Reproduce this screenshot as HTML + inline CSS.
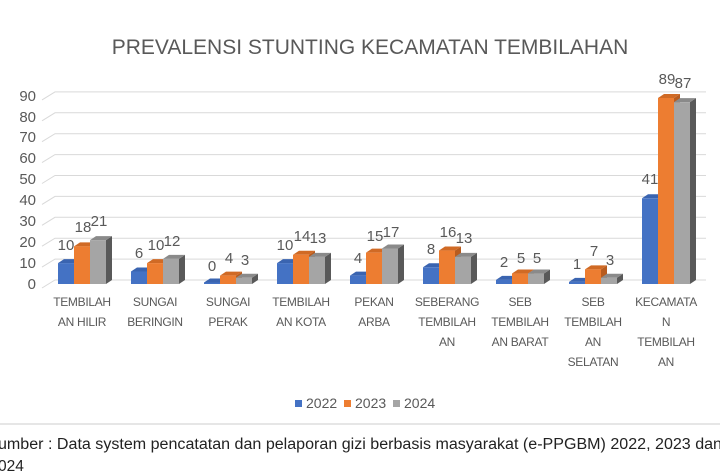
<!DOCTYPE html>
<html><head><meta charset="utf-8"><style>
html,body{margin:0;padding:0;background:#fff;width:720px;height:475px;overflow:hidden}
svg{display:block;font-family:"Liberation Sans",sans-serif}
.n{font-family:"Liberation Sans Narrow","Liberation Sans",sans-serif}
</style></head><body>
<svg width="720" height="475" viewBox="0 0 720 475">
<text x="370" y="54" text-anchor="middle" font-size="21" fill="#595959">PREVALENSI STUNTING KECAMATAN TEMBILAHAN</text>
<g id="grid" stroke="#d9d9d9" stroke-width="1" fill="none"></g>
<g font-size="15" fill="#595959" text-anchor="end">
<text x="36" y="289">0</text><text x="36" y="268">10</text><text x="36" y="247">20</text><text x="36" y="226">30</text><text x="36" y="205">40</text><text x="36" y="184">50</text><text x="36" y="163">60</text><text x="36" y="142">70</text><text x="36" y="122">80</text><text x="36" y="101">90</text>
</g>
<g id="bars"></g>
<g font-size="15" fill="#595959" text-anchor="middle">
<text x="66" y="250">10</text><text x="83" y="232">18</text><text x="99" y="226">21</text>
<text x="139" y="258">6</text><text x="156" y="250">10</text><text x="172" y="246">12</text>
<text x="212" y="271">0</text><text x="229" y="263">4</text><text x="245" y="265">3</text>
<text x="285" y="250">10</text><text x="302" y="241">14</text><text x="318" y="243">13</text>
<text x="358" y="263">4</text><text x="375" y="241">15</text><text x="391" y="237">17</text>
<text x="431" y="254">8</text><text x="448" y="237">16</text><text x="464" y="243">13</text>
<text x="504" y="267">2</text><text x="521" y="263">5</text><text x="537" y="263">5</text>
<text x="577" y="269">1</text><text x="594" y="256">7</text><text x="610" y="265">3</text>
<text x="650" y="184">41</text><text x="667" y="84">89</text><text x="683" y="88">87</text>
</g>
<g class="n" font-size="12" fill="#595959" text-anchor="middle" letter-spacing="-0.3">
<text x="82" y="306">TEMBILAH</text><text x="82" y="326">AN HILIR</text>
<text x="155" y="306">SUNGAI</text><text x="155" y="326">BERINGIN</text>
<text x="228" y="306">SUNGAI</text><text x="228" y="326">PERAK</text>
<text x="301" y="306">TEMBILAH</text><text x="301" y="326">AN KOTA</text>
<text x="374" y="306">PEKAN</text><text x="374" y="326">ARBA</text>
<text x="447" y="306">SEBERANG</text><text x="447" y="326">TEMBILAH</text><text x="447" y="346">AN</text>
<text x="520" y="306">SEB</text><text x="520" y="326">TEMBILAH</text><text x="520" y="346">AN BARAT</text>
<text x="593" y="306">SEB</text><text x="593" y="326">TEMBILAH</text><text x="593" y="346">AN</text><text x="593" y="366">SELATAN</text>
<text x="666" y="306">KECAMATA</text><text x="666" y="326">N</text><text x="666" y="346">TEMBILAH</text><text x="666" y="366">AN</text>
</g>
<g class="n" font-size="14" fill="#595959">
<rect x="295" y="400" width="7" height="7" fill="#4472c4"/><text x="306" y="408">2022</text>
<rect x="344" y="400" width="7" height="7" fill="#ed7d31"/><text x="355" y="408">2023</text>
<rect x="393" y="400" width="7" height="7" fill="#a5a5a5"/><text x="404" y="408">2024</text>
</g>
<line x1="0" y1="424" x2="720" y2="424" stroke="#e6e6e6" stroke-width="2"/>
<g class="n" font-size="15.5" fill="#222">
<text x="-2" y="449" textLength="724" lengthAdjust="spacingAndGlyphs">umber : Data system pencatatan dan pelaporan gizi berbasis masyarakat (e-PPGBM) 2022, 2023 dan</text>
<text x="-2" y="471">024</text>
</g>
</svg>
<script>
var ns="http://www.w3.org/2000/svg";
function el(p,t,a){var e=document.createElementNS(ns,t);for(var k in a)e.setAttribute(k,a[k]);p.appendChild(e);return e;}
var g=document.getElementById("grid");
for(var v=0;v<=90;v+=10){var y=284-2.09*v;
el(g,"polyline",{points:"42,"+(y+4)+" 55,"+(y-4)+" 706,"+(y-4)});}
var d=[[10,18,21],[6,10,12],[0,4,3],[10,14,13],[4,15,17],[8,16,13],[2,5,5],[1,7,3],[41,89,87]];
var cols=[["#4472c4","#2f5597","#3a64b0"],["#ed7d31","#b85c1f","#d06a25"],["#a5a5a5","#595959","#8a8a8a"]];
var b=document.getElementById("bars"),dx=6,dy=4,w=16,base=284;
for(var i=0;i<9;i++)for(var s=0;s<3;s++){
var x=58+73*i+s*w,h=Math.max(2.09*d[i][s],1.5),t=base-h,c=cols[s];
el(b,"polygon",{points:(x+w)+","+t+" "+(x+w+dx)+","+(t-dy)+" "+(x+w+dx)+","+(base-dy)+" "+(x+w)+","+base,fill:c[1]});
el(b,"polygon",{points:x+","+t+" "+(x+dx)+","+(t-dy)+" "+(x+w+dx)+","+(t-dy)+" "+(x+w)+","+t,fill:c[2]});
el(b,"rect",{x:x,y:t,width:w,height:h,fill:c[0]});}
</script>
</body></html>
